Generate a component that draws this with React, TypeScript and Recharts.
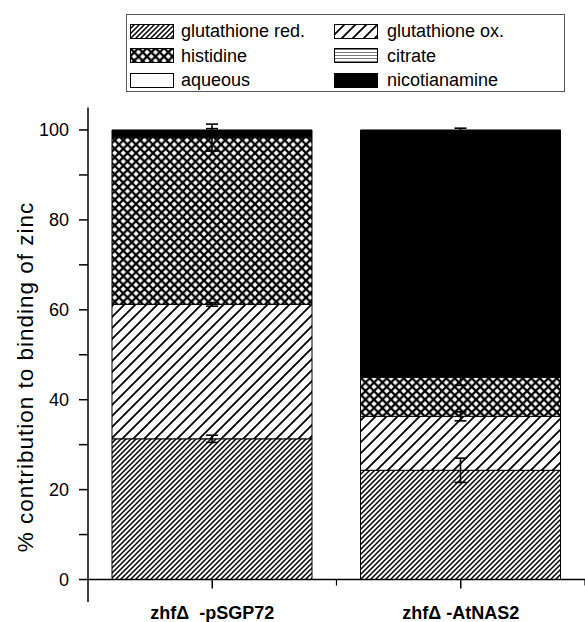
import React from 'react';
import { BarChart, Bar, XAxis, YAxis, ErrorBar, ReferenceLine } from 'recharts';

const categories = ['zhfΔ\u00a0 -pSGP72', 'zhfΔ -AtNAS2'];
const glutRed = [31.3, 24.3];
const glutOx = [29.9, 12.0];
const histidine = [37.1, 8.7];
const citrate = [0, 0];
const aqueous = [0, 0];
const nicotianamine = [1.7, 55.0];
const glutRedErr = [0.8, 2.7];
const glutOxErr = [0.4, 1.0];
const histidineErr = [3.0, 1.8];
const nicotianamineErr = [0.3, 0.4];
const yTicks = [0, 10, 20, 30, 40, 50, 60, 70, 80, 90, 100];

const seriesKeys = ['glutRed', 'glutOx', 'histidine', 'citrate', 'aqueous', 'nicotianamine'];
const seriesNames = ['glutathione red.', 'glutathione ox.', 'histidine', 'citrate', 'aqueous', 'nicotianamine'];
const seriesFills = ['url(#pRed)', 'url(#pOx)', 'url(#pHis)', 'url(#pCit)', '#ffffff', '#000000'];
const errKeys: (string | null)[] = ['glutRedErr', 'glutOxErr', 'histidineErr', null, null, 'nicotianamineErr'];

const data = categories.map((name, i) => ({
  name,
  glutRed: glutRed[i],
  glutOx: glutOx[i],
  histidine: histidine[i],
  citrate: citrate[i],
  aqueous: aqueous[i],
  nicotianamine: nicotianamine[i],
  glutRedErr: glutRedErr[i],
  glutOxErr: glutOxErr[i],
  histidineErr: histidineErr[i],
  nicotianamineErr: nicotianamineErr[i],
}));

const FONT = '"Liberation Sans", Arial, sans-serif';
const W = 585;
const H = 622;
const PLOT_LEFT = 88;
const BAND = (W - PLOT_LEFT) / categories.length;

const YTick = (props: any) => {
  const { x, y, payload } = props;
  if (payload.value % 20 !== 0) return null;
  return (
    <text x={x} y={y} dy={6.5} textAnchor="end" fontSize={18} fontFamily={FONT} fill="#000">
      {payload.value}
    </text>
  );
};

const XTick = (props: any) => {
  const { x, y, payload } = props;
  const zeroY = y - 22.5;
  return (
    <g>
      <line x1={x} x2={x} y1={zeroY} y2={zeroY + 9} stroke="#000" strokeWidth={1.5} />
      <line x1={x + BAND / 2} x2={x + BAND / 2} y1={zeroY} y2={zeroY + 6} stroke="#000" strokeWidth={1.2} />
      <text x={x} y={y + 17} textAnchor="middle" fontSize={18} fontWeight="bold" fontFamily={FONT} fill="#000" style={{ whiteSpace: 'pre' }}>
        {payload.value}
      </text>
    </g>
  );
};

const LegendBox = () => {
  return (
    <div
      style={{
        position: 'absolute',
        left: 126,
        top: 14,
        width: 437,
        height: 76,
        border: '1px solid #555',
        background: '#fff',
        fontFamily: FONT,
        fontSize: 18,
        color: '#000',
      }}
    >
      {seriesNames.map((n, i) => {
        const col = i % 2;
        const row = Math.floor(i / 2);
        const left = col === 0 ? 3 : 207;
        const top = 8 + row * 24.5;
        return (
          <div key={n} style={{ position: 'absolute', left, top, height: 16, display: 'flex', alignItems: 'center' }}>
            <svg width={44} height={15} style={{ display: 'block' }}>
              <rect x={0.5} y={0.5} width={43} height={14} fill={seriesFills[i]} stroke="#000" strokeWidth={1} />
            </svg>
            <span style={{ marginLeft: col === 0 ? 7 : 9, lineHeight: '16px', whiteSpace: 'nowrap' }}>{n}</span>
          </div>
        );
      })}
    </div>
  );
};

export default function App() {
  return (
    <div style={{ position: 'absolute', left: 0, top: 0, width: W, height: H, background: '#fff' }}>
      <BarChart width={W} height={H} data={data} margin={{ top: 107.5, right: 0, bottom: 0, left: 0 }} barSize={200}>
        <defs>
          <pattern id="pRed" patternUnits="userSpaceOnUse" width={5} height={5}>
            <rect width={5} height={5} fill="#fff" />
            <path d="M-1,1 l2,-2 M0,5 l5,-5 M4,6 l2,-2" stroke="#000" strokeWidth={1.5} />
          </pattern>
          <pattern id="pOx" patternUnits="userSpaceOnUse" width={11} height={11}>
            <rect width={11} height={11} fill="#fff" />
            <path d="M-2,2 l4,-4 M0,11 l11,-11 M9,13 l4,-4" stroke="#000" strokeWidth={1.8} />
          </pattern>
          <pattern id="pHis" patternUnits="userSpaceOnUse" width={8.5} height={8.5}>
            <rect width={8.5} height={8.5} fill="#fff" />
            <path d="M-1,-1 L9.5,9.5 M9.5,-1 L-1,9.5" stroke="#000" strokeWidth={2.25} />
          </pattern>
          <pattern id="pCit" patternUnits="userSpaceOnUse" width={4} height={3}>
            <rect width={4} height={3} fill="#fff" />
            <path d="M0,1.5 L4,1.5" stroke="#555" strokeWidth={0.8} />
          </pattern>
        </defs>
        <XAxis
          dataKey="name"
          axisLine={false}
          tickLine={false}
          tickSize={0}
          tickMargin={0}
          height={20}
          tick={<XTick />}
          interval={0}
        />
        <YAxis
          type="number"
          domain={[-5, 105]}
          ticks={yTicks}
          width={PLOT_LEFT}
          tickSize={9}
          tickMargin={10}
          axisLine={{ stroke: '#000', strokeWidth: 1.5 }}
          tickLine={{ stroke: '#000', strokeWidth: 1.5 }}
          tick={<YTick />}
          interval={0}
          label={() => (
            <text
              transform="translate(33,377) rotate(-90)"
              textAnchor="middle"
              fontSize={22.5}
              letterSpacing={1}
              fontFamily={FONT}
              fill="#000"
            >
              % contribution to binding of zinc
            </text>
          )}
        />
        {seriesKeys.map((k, i) => (
          <Bar key={k} dataKey={k} name={seriesNames[i]} stackId="a" fill={seriesFills[i]} stroke="#000" strokeWidth={1} isAnimationActive={false}>
            {errKeys[i] ? <ErrorBar dataKey={errKeys[i] as string} width={6} stroke="#000" strokeWidth={1.6} direction="y" /> : null}
          </Bar>
        ))}
        <ReferenceLine y={0} stroke="#000" strokeWidth={1.5} />
      </BarChart>
      <LegendBox />
    </div>
  );
}
